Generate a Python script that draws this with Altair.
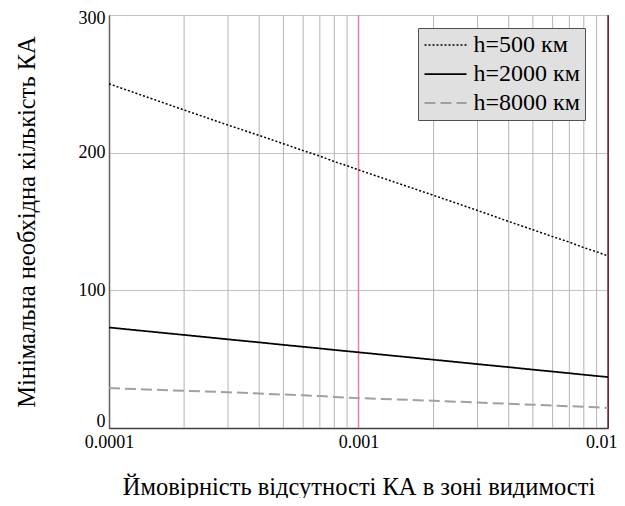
import altair as alt
import pandas as pd

p_values = [0.0001, 0.0002, 0.0003, 0.0004, 0.0005, 0.0006, 0.0007, 0.0008, 0.0009,
            0.001, 0.002, 0.003, 0.004, 0.005, 0.006, 0.007, 0.008, 0.009, 0.01]
n_500 = [250, 231, 220, 212.5, 206.5, 201.5, 197.5, 193.5, 190.5,
         187.5, 169, 158, 150, 144, 139, 135, 131, 128, 125]
n_2000 = [73, 67.6, 64.4, 62.2, 60.4, 59, 57.8, 56.7, 55.8,
          55, 49.6, 46.4, 44.2, 42.4, 41, 39.8, 38.7, 37.8, 37]
n_8000 = [29, 27, 26, 25, 24.3, 23.7, 23.2, 22.6, 22.1,
          21.7, 19.8, 18.5, 17.6, 16.9, 16.3, 15.8, 15.4, 15, 14.6]
series_names = ["h=500 км", "h=2000 км", "h=8000 км"]
minor_grid = [0.0002, 0.0003, 0.0004, 0.0005, 0.0006, 0.0007, 0.0008, 0.0009,
              0.002, 0.003, 0.004, 0.005, 0.006, 0.007, 0.008, 0.009]
x_ticks = [0.0001, 0.001, 0.01]
y_ticks = [0, 100, 200, 300]

rows = []
for name, vals in zip(series_names, [n_500, n_2000, n_8000]):
    for p, v in zip(p_values, vals):
        rows.append({"p": p, "n": v, "series": name})
df = pd.DataFrame(rows)

FONT = "Liberation Serif"
xscale = alt.Scale(type="log", domain=[0.0001, 0.01], nice=False)
yscale = alt.Scale(domain=[0, 300], nice=False)

grid = alt.Chart(pd.DataFrame({"g": minor_grid})).mark_rule(
    color="#b4b4b4", strokeWidth=1
).encode(x=alt.X("g:Q", scale=xscale))

pink = alt.Chart(pd.DataFrame({"g": [0.001]})).mark_rule(
    color="#f07aae", strokeWidth=1.5
).encode(x=alt.X("g:Q", scale=xscale))

right_edge = alt.Chart(pd.DataFrame({"g": [0.01]})).mark_rule(
    color="#7a2848", strokeWidth=1.5
).encode(x=alt.X("g:Q", scale=xscale))

lines = alt.Chart(df).mark_line().encode(
    x=alt.X("p:Q", scale=xscale,
            axis=alt.Axis(values=x_ticks, grid=False, ticks=False,
                          labelExpr="datum.value == 0.0001 ? '0.0001' : datum.value == 0.001 ? '0.001' : '0.01'",
                          labelAlign=alt.expr("datum.value == 0.01 ? 'right' : 'center'"),
                          labelOffset=alt.expr("datum.value == 0.01 ? 9 : 0"),
                          title="Ймовірність відсутності КА в зоні видимості",
                          titlePadding=24, labelPadding=5, domainColor="#404040")),
    y=alt.Y("n:Q", scale=yscale,
            axis=alt.Axis(values=y_ticks, grid=True, gridColor="#c4c4c4", ticks=False,
                          title="Мінімальна необхідна кількість КА",
                          titlePadding=39, labelPadding=4, domainColor="#606060",
                          labelOffset=alt.expr("datum.value == 300 ? 3 : datum.value == 0 ? -2 : 0"),
                          labelBaseline=alt.expr("datum.value == 0 ? 'alphabetic' : 'middle'"))),
    color=alt.Color("series:N", sort=series_names,
                    scale=alt.Scale(domain=series_names, range=["#000000", "#000000", "#a0a0a0"]),
                    legend=alt.Legend(title=None)),
    strokeDash=alt.StrokeDash("series:N", sort=series_names,
                              scale=alt.Scale(domain=series_names, range=[[2, 2], [1, 0], [11, 5]]),
                              legend=alt.Legend(title=None)),
    strokeWidth=alt.StrokeWidth("series:N", sort=series_names,
                                scale=alt.Scale(domain=series_names, range=[1.5, 2, 3.5]),
                                legend=alt.Legend(title=None)),
)

chart = alt.layer(grid, pink, right_edge, lines).properties(
    width=499, height=413,
    autosize=alt.AutoSizeParams(type="none"),
    padding={"left": 101, "top": 7, "right": 9, "bottom": 70},
).configure_view(stroke="#202020", strokeWidth=1).configure_axis(
    labelFont=FONT, labelFontSize=18, labelColor="#000000",
    titleFont=FONT, titleFontSize=24.5, titleColor="#000000", titleFontWeight="normal",
    domainWidth=1.5,
).configure_legend(
    orient="none", legendX=309, legendY=13,
    fillColor="#e0e0e0", strokeColor="#505050", padding=5,
    symbolType="M-2,0H2", symbolSize=441, symbolOffset=10.5,
    labelFont=FONT, labelFontSize=24,
    labelColor="#000000", rowPadding=5, labelOffset=16,
)

chart.save("out.html", embed_options={"renderer": "svg", "actions": False})
